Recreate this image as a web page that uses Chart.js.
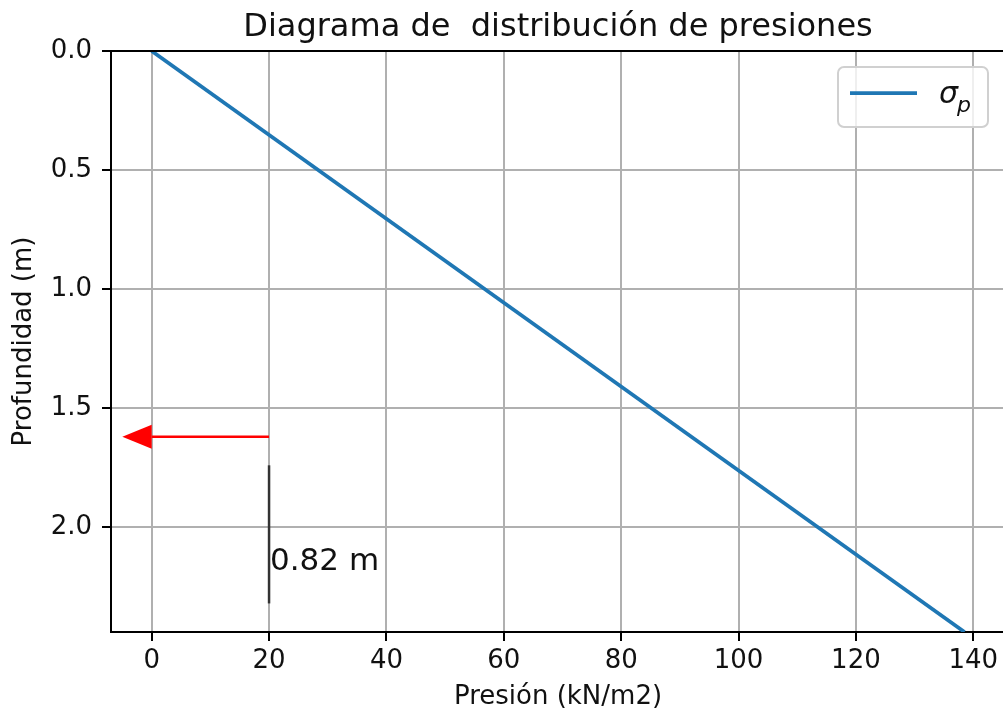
<!DOCTYPE html>
<html><head><meta charset="utf-8">
<script src="https://cdn.jsdelivr.net/npm/chart.js@4.4.0/dist/chart.umd.min.js"></script>
<style>html,body{margin:0;padding:0;background:#fff;overflow:hidden;} #wrap{width:1010px;height:715px;}</style>
</head><body><div id="wrap"><canvas id="c" width="1010" height="715" style="width:1010px;height:715px"></canvas></div>
<script>
const titleText = 'Diagrama de  distribución de presiones';
const xLabel = 'Presión (kN/m2)';
const yLabel = 'Profundidad (m)';
const seriesSymbol = 'σ';
const seriesSub = 'p';
const pressure = [0, 138.5];
const depth = [0, 2.44];
const xTicks = [0, 20, 40, 60, 80, 100, 120, 140];
const yTicks = [0.0, 0.5, 1.0, 1.5, 2.0];
const xRange = [-6.93, 145.4];
const yRange = [0, 2.44];
const arrowFrom = [20, 1.62];
const arrowDelta = [-20, 0];
const arrowHead = [5, 0.1];
const markX = [20, 20];
const markY = [1.74, 2.32];
const noteText = '0.82 m';
const notePos = [20, 2.18];

const FONT = "'DejaVu Sans'";
const BLUE = '#1f77b4';

const extras = {
  id: 'extras',
  afterDatasetsDraw(chart) {
    const ctx = chart.ctx, xs = chart.scales.x, ys = chart.scales.y, a = chart.chartArea;
    ctx.save();
    // vertical marker line
    ctx.strokeStyle = '#333';
    ctx.lineWidth = 2.5;
    ctx.beginPath();
    ctx.moveTo(xs.getPixelForValue(markX[0]), ys.getPixelForValue(markY[0]));
    ctx.lineTo(xs.getPixelForValue(markX[1]), ys.getPixelForValue(markY[1]));
    ctx.stroke();
    // red arrow
    const x0 = xs.getPixelForValue(arrowFrom[0]);
    const y0 = ys.getPixelForValue(arrowFrom[1]);
    const xb = xs.getPixelForValue(arrowFrom[0] + arrowDelta[0]);
    const xt = xs.getPixelForValue(arrowFrom[0] + arrowDelta[0] - arrowHead[0]);
    const hw = Math.abs(ys.getPixelForValue(arrowFrom[1] + arrowHead[1] / 2) - y0);
    ctx.strokeStyle = '#ff0000';
    ctx.fillStyle = '#ff0000';
    ctx.lineWidth = 2.5;
    ctx.beginPath();
    ctx.moveTo(x0, y0);
    ctx.lineTo(xb, y0);
    ctx.stroke();
    ctx.beginPath();
    ctx.moveTo(xb, y0 - hw);
    ctx.lineTo(xt, y0);
    ctx.lineTo(xb, y0 + hw);
    ctx.closePath();
    ctx.fill();
    // note text
    ctx.fillStyle = '#111';
    ctx.font = '31px ' + FONT;
    ctx.textAlign = 'left';
    ctx.textBaseline = 'alphabetic';
    ctx.fillText(noteText, xs.getPixelForValue(notePos[0]) + 1, ys.getPixelForValue(notePos[1]));
    // top spine
    ctx.strokeStyle = '#000';
    ctx.lineWidth = 2;
    ctx.beginPath();
    ctx.moveTo(a.left, a.top);
    ctx.lineTo(a.right, a.top);
    ctx.stroke();
    // legend
    const lw = 150, lh = 60;
    const lx = a.right - 17 - lw, ly = a.top + 16;
    ctx.fillStyle = 'rgba(255,255,255,0.8)';
    ctx.strokeStyle = '#d0d0d0';
    ctx.lineWidth = 2;
    ctx.beginPath();
    ctx.roundRect(lx, ly, lw, lh, 6);
    ctx.fill();
    ctx.stroke();
    const ds = chart.data.datasets[0];
    ctx.strokeStyle = ds.borderColor;
    ctx.lineWidth = ds.borderWidth;
    ctx.beginPath();
    ctx.moveTo(lx + 12, ly + 26);
    ctx.lineTo(lx + 79, ly + 26);
    ctx.stroke();
    ctx.fillStyle = '#111';
    ctx.font = 'italic 30px ' + FONT;
    ctx.fillText(seriesSymbol, lx + 101, ly + 36);
    const sw = ctx.measureText(seriesSymbol).width;
    ctx.font = 'italic 22px ' + FONT;
    ctx.fillText(seriesSub, lx + 100 + sw, ly + 45);
    // title
    ctx.font = '32px ' + FONT;
    ctx.textAlign = 'center';
    ctx.fillText(titleText, (a.left + a.right) / 2, 36);
    ctx.restore();
  }
};

new Chart(document.getElementById('c'), {
  type: 'scatter',
  data: {
    datasets: [{
      label: seriesSymbol + seriesSub,
      data: pressure.map((p, i) => ({x: p, y: depth[i]})),
      showLine: true,
      borderColor: BLUE,
      backgroundColor: BLUE,
      borderWidth: 3.75,
      pointRadius: 0
    }]
  },
  options: {
    responsive: false,
    animation: false,
    layout: {padding: {top: 51, right: 5, left: 0, bottom: 0}},
    plugins: {legend: {display: false}, title: {display: false}, tooltip: {enabled: false}},
    scales: {
      x: {
        type: 'linear', position: 'bottom', min: xRange[0], max: xRange[1],
        afterBuildTicks: s => { s.ticks = xTicks.map(v => ({value: v})); },
        afterFit: s => { s.height = 83; },
        grid: {color: '#b0b0b0', lineWidth: 2, tickColor: '#000', tickWidth: 2, tickLength: 9},
        border: {color: '#000', width: 2},
        ticks: {color: '#111', font: {family: FONT, size: 26}, padding: 5, maxRotation: 0, callback: v => String(v)},
        title: {display: true, text: xLabel, color: '#111', font: {family: FONT, size: 26}, padding: {top: 0, bottom: 2}}
      },
      y: {
        type: 'linear', position: 'left', reverse: true, min: yRange[0], max: yRange[1],
        afterBuildTicks: s => { s.ticks = yTicks.map(v => ({value: v})); },
        afterFit: s => { s.width = 111; },
        grid: {color: '#b0b0b0', lineWidth: 2, tickColor: '#000', tickWidth: 2, tickLength: 9},
        border: {color: '#000', width: 2},
        ticks: {color: '#111', font: {family: FONT, size: 26}, padding: 10, callback: v => Number(v).toFixed(1)},
        title: {display: true, text: yLabel, color: '#111', font: {family: FONT, size: 26}, padding: {top: 9, bottom: 0}}
      }
    }
  },
  plugins: [extras]
});
</script></body></html>
